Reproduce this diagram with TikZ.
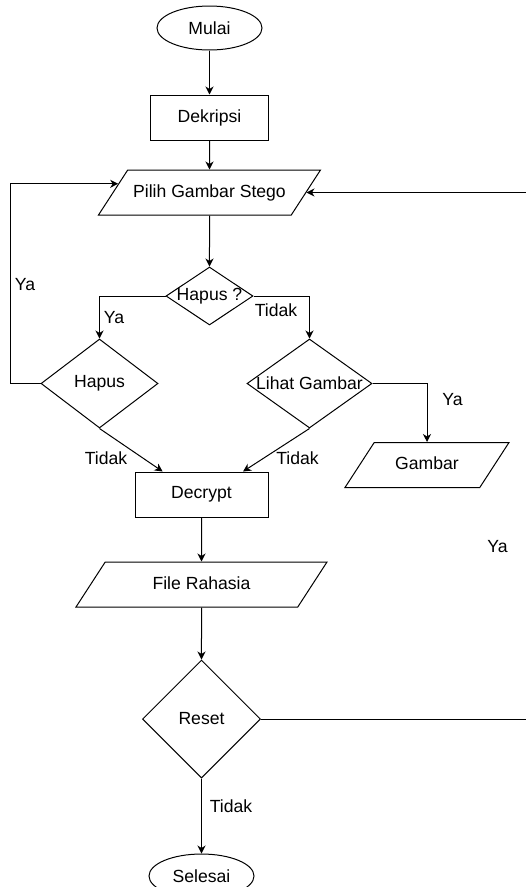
\documentclass[tikz,border=0pt]{standalone}
\usepackage{fontspec}
\setmainfont{Liberation Sans}
\usetikzlibrary{arrows.meta,positioning,calc,shapes.geometric}

\begin{document}
\begin{tikzpicture}[x=1pt, y=-1pt, font=\fontsize{17.6}{20}\selectfont,
  term/.style={draw, ellipse, minimum width=105pt, minimum height=44pt, inner sep=0pt, line width=1pt},
  proc/.style={draw, rectangle, minimum height=45pt, inner sep=0pt, line width=1pt},
  io/.style={draw, trapezium, trapezium left angle=57, trapezium right angle=123, trapezium stretches body,
             text height=13pt, text depth=4pt, inner xsep=0pt, inner ysep=14pt, line width=1pt},
  dec/.style={draw, diamond, inner sep=0pt, line width=1pt},
  a/.style={-{Stealth[length=8pt, width=8pt, inset=2.5pt]}, line width=1pt},
  lbl/.style={inner sep=0pt}]
\useasboundingbox (0,0) rectangle (526,887);
\clip (0,0) rectangle (526,887);
\node[term] (mulai) at (209.5,28) {Mulai};
\node[proc, minimum width=118pt, below=44pt of mulai] (dekripsi) {Dekripsi};
\node[io, minimum width=222pt, below=29pt of dekripsi] (pilih) {Pilih Gambar Stego};
\node[dec, minimum width=87pt, minimum height=58pt, below=51pt of pilih] (hapusq) {\makebox[0pt]{Hapus ?}};
\node[dec, minimum width=117pt, minimum height=89pt] (hapus) at (99.5,383.5) {Hapus};
\node[dec, minimum width=125pt, minimum height=89pt] (lihat) at (309.5,383.5) {\makebox[0pt]{Lihat Gambar}};
\node[io, minimum width=164pt] (gambar) at (427,465) {Gambar};
\node[proc, minimum width=133pt] (decrypt) at (201.5,494.5) {Decrypt};
\node[io, minimum width=251pt, below=44pt of decrypt] (rahasia) {File Rahasia};
\node[dec, minimum width=118pt, minimum height=118pt, below=52pt of rahasia] (reset) {Reset};
\node[term, below=75pt of reset] (selesai) {Selesai};
\draw[a] (mulai) -- (dekripsi);
\draw[a] (dekripsi) -- (pilih);
\draw[a] (pilih) -- (hapusq);
\draw[a] (hapusq.west) -| (hapus.north);
\draw[a] (hapusq.east) -| (lihat.north);
\draw[a] (hapus.west) -- ++(-30,0) |- ($(pilih.top left corner)!0.31!(pilih.bottom left corner)$);
\draw[a] (lihat.east) -| (gambar.north);
\draw[a] (hapus.south) -- ($(decrypt.north west)!0.21!(decrypt.north east)$);
\draw[a] (lihat.south) -- ($(decrypt.north west)!0.81!(decrypt.north east)$);
\draw[a] (decrypt) -- (rahasia);
\draw[a] (rahasia) -- (reset);
\draw[a] (reset) -- (selesai);
\draw[a] (reset.east) -- ++(280,0) |- ($(pilih.top right corner)!0.5!(pilih.bottom right corner)$);
\node[lbl] (yaloop) at (25,285) {Ya};
\node[lbl] (yahapus) at (114,318) {Ya};
\node[lbl] (tidakq) at (276,310) {Tidak};
\node[lbl] (yalihat) at (452.5,399.5) {Ya};
\node[lbl] (tidakh) at (106,458) {Tidak};
\node[lbl] (tidakl) at (297.5,458) {Tidak};
\node[lbl] (yareset) at (497.5,547) {Ya};
\node[lbl] (tidakr) at (231,806.5) {Tidak};
\end{tikzpicture}
\end{document}
